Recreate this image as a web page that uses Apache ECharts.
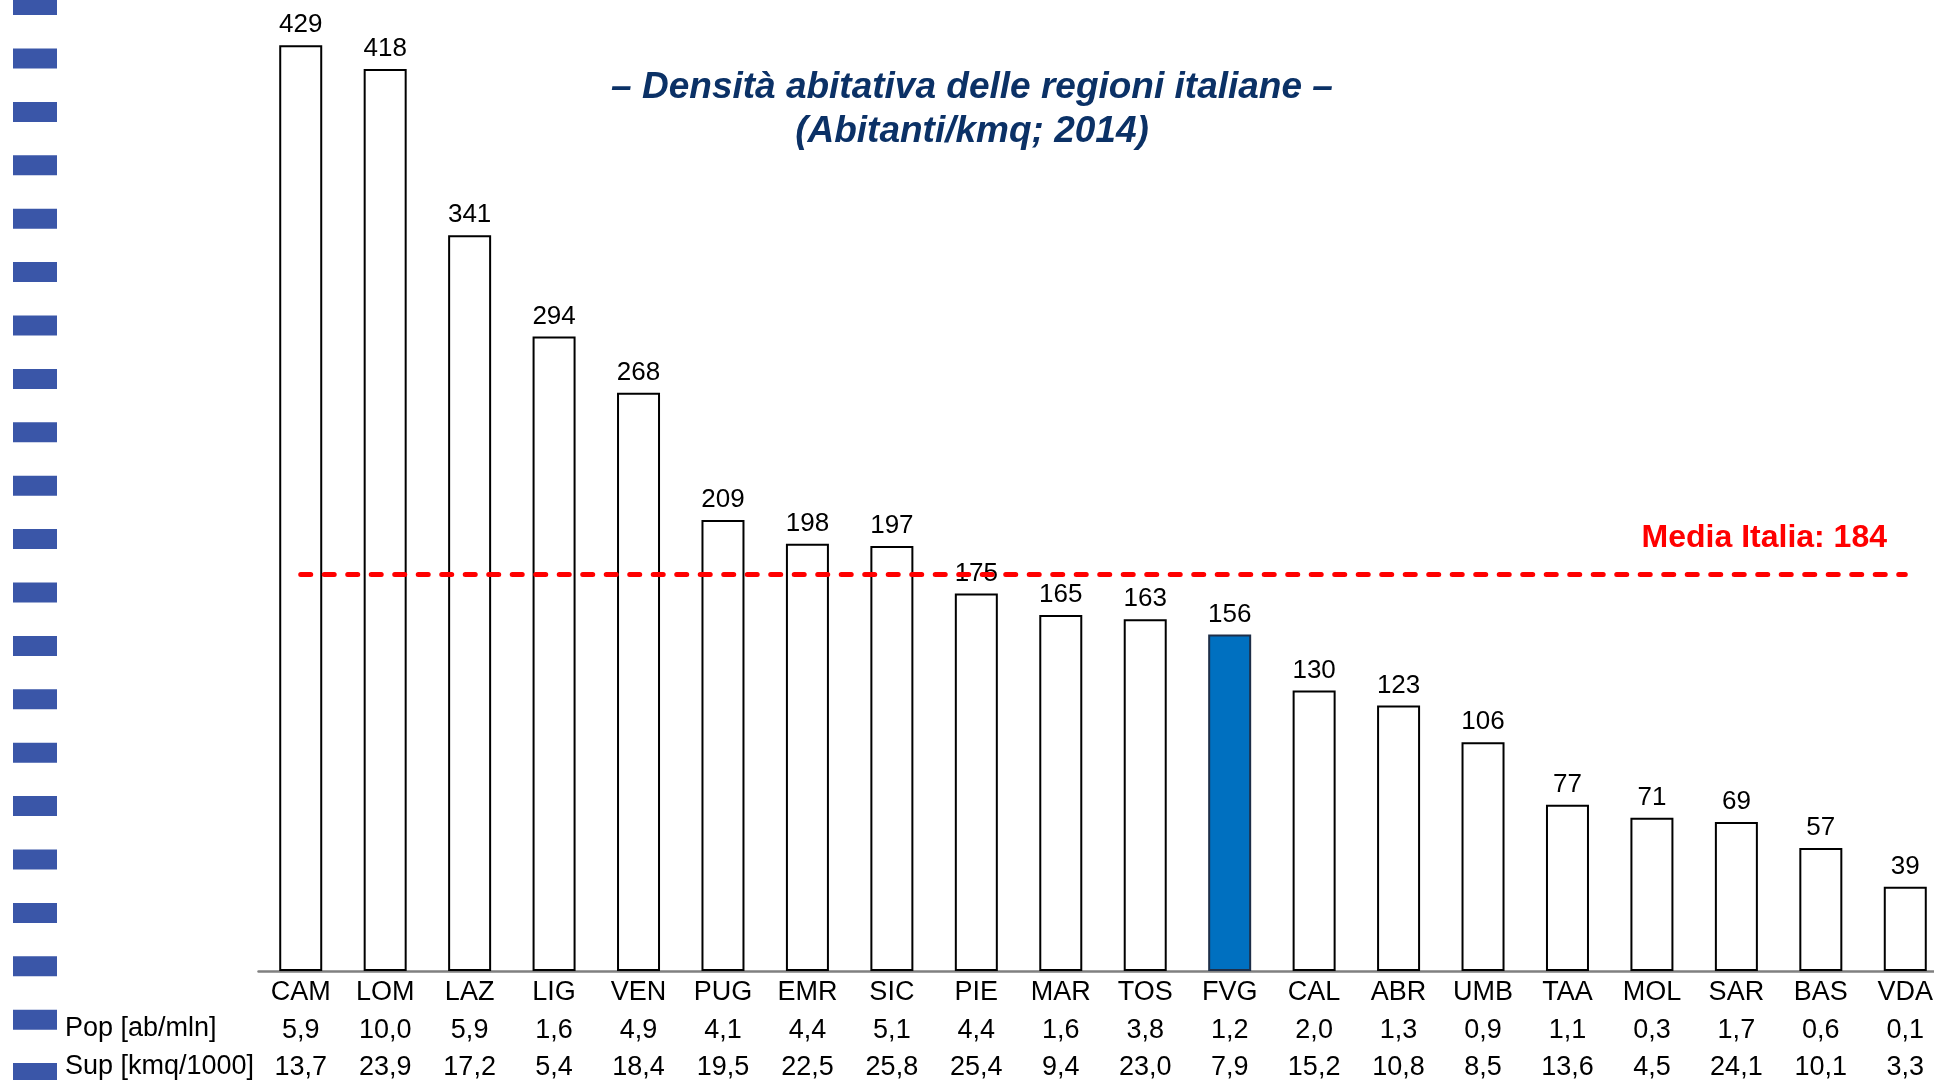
<!DOCTYPE html>
<html>
<head>
<meta charset="utf-8">
<script src="https://cdn.jsdelivr.net/npm/echarts@6/dist/echarts.min.js"></script>
<style>
html,body{margin:0;padding:0;background:#fff;}
#chart{width:1934px;height:1080px;}
</style>
</head>
<body>
<div id="chart"></div>
<script>
const regions = ['CAM','LOM','LAZ','LIG','VEN','PUG','EMR','SIC','PIE','MAR','TOS','FVG','CAL','ABR','UMB','TAA','MOL','SAR','BAS','VDA'];
const density = [429,418,341,294,268,209,198,197,175,165,163,156,130,123,106,77,71,69,57,39];
const popMln = [5.9,10.0,5.9,1.6,4.9,4.1,4.4,5.1,4.4,1.6,3.8,1.2,2.0,1.3,0.9,1.1,0.3,1.7,0.6,0.1];
const supKmq = [13.7,23.9,17.2,5.4,18.4,19.5,22.5,25.8,25.4,9.4,23.0,7.9,15.2,10.8,8.5,13.6,4.5,24.1,10.1,3.3];
const mediaItalia = 184;
const highlight = 'FVG';
const titleLines = ['– Densità abitativa delle regioni italiane –', '(Abitanti/kmq; 2014)'];
const rowLabels = ['Pop [ab/mln]', 'Sup [kmq/1000]'];

const FONT = '"Liberation Sans", Arial, sans-serif';
const fmt = v => v.toFixed(1).replace('.', ',');

const chart = echarts.init(document.getElementById('chart'));

// decorative strip on the left
const deco = [];
for (let k = -1; k <= 20; k++) {
  deco.push({
    type: 'rect', silent: true,
    shape: { x: 13, y: 48.5 + 53.4 * k, width: 44, height: 20 },
    style: { fill: '#3A56A8' }
  });
}

const option = {
  backgroundColor: '#fff',
  animation: false,
  grid: { left: 258.5, top: 0, width: 1689, height: 971, containLabel: false, outerBoundsMode: 'none' },
  xAxis: {
    type: 'category',
    data: regions,
    axisLine: { show: true, lineStyle: { color: '#808080', width: 2.5 } },
    axisTick: { show: false },
    axisLabel: {
      interval: 0,
      margin: 3,
      fontFamily: FONT,
      fontSize: 27,
      lineHeight: 37.5,
      color: '#000',
      formatter: (v, i) => v + '\n' + fmt(popMln[i]) + '\n' + fmt(supKmq[i])
    }
  },
  yAxis: {
    type: 'value', min: 0, max: 450, show: false,
    splitLine: { show: false }
  },
  series: [{
    type: 'bar',
    barWidth: 43,
    data: density.map((v, i) => ({
      value: v,
      itemStyle: regions[i] === highlight
        ? { color: '#0070C0', borderColor: '#1E2E48', borderWidth: 2 }
        : { color: '#FFFFFF', borderColor: '#000000', borderWidth: 2 }
    })),
    label: {
      show: true, position: 'top', distance: 7,
      fontFamily: FONT, fontSize: 26, color: '#000'
    },
    markLine: {
      silent: true,
      symbol: ['none', 'none'],
      label: { show: false },
      lineStyle: { color: '#FF0000', width: 5, type: [10, 13.5], cap: 'round' },
      data: [[{ coord: [regions[0], mediaItalia] }, { coord: [regions[regions.length - 1], mediaItalia] }]]
    },
    z: 2
  }],
  graphic: deco.concat([
    {
      type: 'text', x: 972, y: 88, silent: true,
      style: {
        text: titleLines[0], textAlign: 'center', textVerticalAlign: 'middle',
        font: 'italic bold 37px ' + FONT, fill: '#0B3166'
      }
    },
    {
      type: 'text', x: 972, y: 132, silent: true,
      style: {
        text: titleLines[1], textAlign: 'center', textVerticalAlign: 'middle',
        font: 'italic bold 37px ' + FONT, fill: '#0B3166'
      }
    },
    {
      type: 'text', x: 1887, y: 538, silent: true,
      style: {
        text: 'Media Italia: ' + mediaItalia, textAlign: 'right', textVerticalAlign: 'middle',
        font: 'bold 32px ' + FONT, fill: '#FF0000'
      }
    },
    {
      type: 'text', x: 65, y: 1029, silent: true,
      style: { text: rowLabels[0], textAlign: 'left', textVerticalAlign: 'middle', font: '27px ' + FONT, fill: '#000' }
    },
    {
      type: 'text', x: 65, y: 1067, silent: true,
      style: { text: rowLabels[1], textAlign: 'left', textVerticalAlign: 'middle', font: '27px ' + FONT, fill: '#000' }
    }
  ])
};
chart.setOption(option);
</script>
</body>
</html>
